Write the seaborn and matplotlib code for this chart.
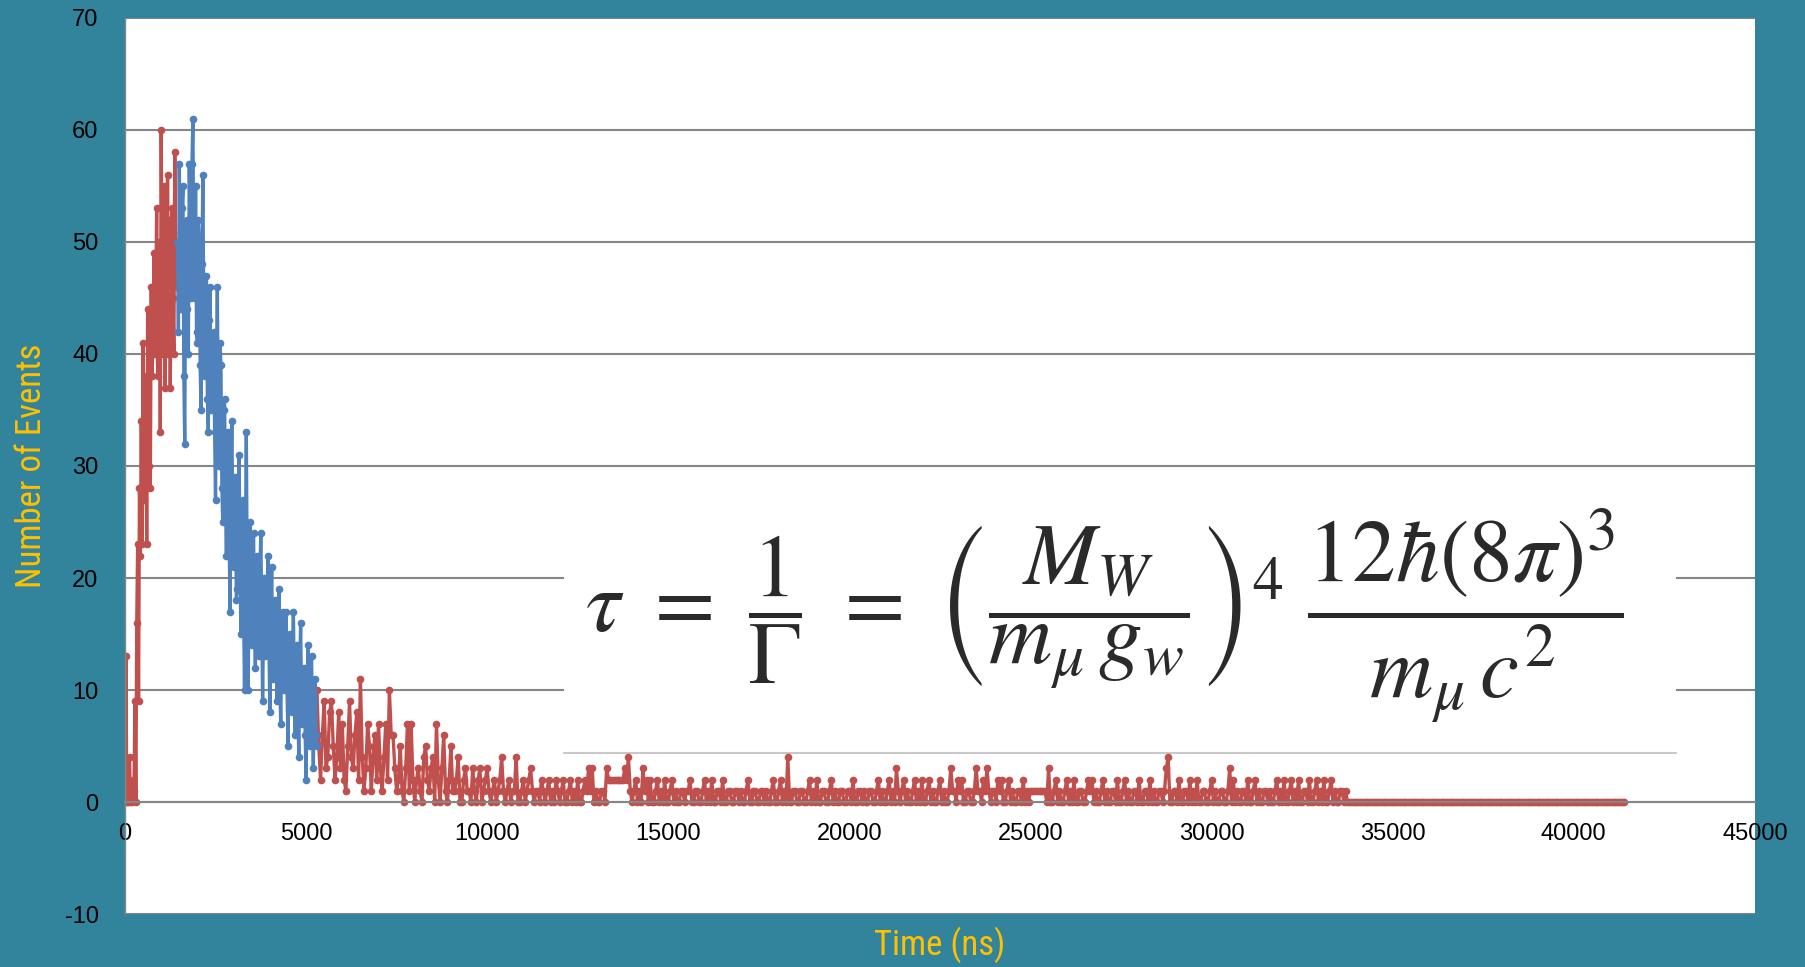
# Muon decay-time histogram with the lifetime formula pasted on top
# Output : out.png

import matplotlib.pyplot as plt
import numpy as np
import pandas as pd
import seaborn as sns
from matplotlib import font_manager
from matplotlib.lines import Line2D
from matplotlib.patches import Rectangle

# ── Data (counts per time bin) ────────────────────────────────────────────────
# red rise, 25 ns bins starting at 0 ns
red_rise = [0, 13, 0, 0, 1, 4, 0, 1, 0, 2,
            1, 9, 0, 16, 23, 9, 28, 22, 34, 23,
            41, 27, 34, 38, 23, 44, 30, 41, 28, 46,
            38, 42, 49, 40, 44, 53, 38, 41, 50, 33,
            60, 45, 40, 55, 37, 48, 40, 56, 44, 52,
            37, 47, 53, 45, 40, 58, 47, 50, 46]
RISE_START, RISE_STEP = 0, 25

# blue peak, 25 ns bins starting at 1450 ns
blue_peak = [50, 42, 57, 47, 44, 53, 55, 38, 32, 49,
             52, 44, 40, 57, 50, 45, 57, 61, 48, 45,
             55, 42, 41, 52, 50, 39, 35, 48, 56, 44,
             38, 45, 47, 36, 33, 43, 46, 35, 36, 41,
             42, 33, 27, 38, 46, 34, 30, 41, 39, 28,
             25, 35, 36, 27, 22, 30, 33, 24, 17, 29,
             34, 26, 21, 28, 29, 18, 19, 27, 31, 22,
             15, 24, 27, 17, 10, 22, 33, 20, 10, 18,
             25, 19, 14, 20, 24, 16, 12, 19, 22, 15,
             13, 20, 24, 17, 9, 16, 20, 13, 14, 19,
             22, 14, 8, 15, 21, 13, 11, 16, 18, 12,
             9, 14, 19, 11, 7, 13, 17, 12, 10, 15,
             17, 10, 5, 12, 15, 9, 8, 13, 17, 10,
             6, 11, 14, 8, 4, 12, 16, 9, 7, 11,
             12, 6, 2, 9, 14, 7, 5, 10, 13, 8,
             3, 9, 11, 6, 5]
BLUE_START, BLUE_STEP = 1450, 25

# red decay tail, 50 ns bins starting at 5300 ns
red_mid = [10, 5, 2, 6, 9, 3, 4, 8, 9, 5, 2, 4, 8, 3,
           7, 2, 1, 5, 9, 4, 3, 6, 8, 2, 11, 4, 1, 3, 7, 5, 1, 4, 6, 2,
           7, 3, 1, 4, 7, 2, 10, 6, 6, 3, 1, 2, 5, 1, 0, 3, 7, 1, 7, 2,
           0, 2, 3, 1, 0, 4, 5, 2, 1, 3, 4, 0, 7, 2, 0, 3, 6, 1, 0, 2,
           5, 1, 1, 2, 4, 0, 0, 2, 3, 1, 1, 0, 3, 1, 0, 2, 3, 0, 1, 2,
           3, 1, 0, 1, 2, 0, 1, 2, 4, 1, 0, 1, 2, 0, 1, 1, 4, 0, 0, 1,
           2, 0, 1, 2, 3, 1, 0, 1, 1, 0, 2, 1, 0, 1, 2, 0, 1, 0, 2, 1]
red_low = [0, 1, 2, 0, 0, 1, 2, 0, 1, 0, 2, 0, 0, 1, 2, 1, 3, 1, 3, 0,   # 12000
           1, 0, 0, 1, 1, 0, 3, 2, 2, 2, 2, 2, 2, 2, 2, 2, 3, 2, 4, 1,
           0, 1, 2, 0, 1, 0, 3, 1, 2, 0, 2, 0, 0, 1, 2, 0, 1, 0, 2, 0,
           0, 1, 2, 0, 1, 0, 0, 1, 1, 0, 1, 1, 2, 0, 0, 1, 1, 0, 0, 1,
           2, 0, 1, 0, 2, 0, 0, 1, 1, 0, 2, 0, 0, 1, 1, 0, 0, 1, 1, 0,
           1, 0, 0, 1, 2, 0, 0, 1, 1, 0, 0, 1, 1, 0, 1, 0, 0, 1, 2, 0,   # 17000
           0, 1, 2, 0, 1, 0, 4, 0, 0, 1, 1, 0, 0, 1, 1, 0, 0, 1, 2, 0,
           1, 0, 2, 0, 0, 1, 1, 0, 0, 1, 2, 0, 1, 0, 0, 1, 1, 0, 0, 1,
           1, 0, 2, 0, 0, 1, 1, 0, 1, 0, 0, 1, 1, 0, 0, 1, 2, 0, 1, 0,
           0, 1, 2, 0, 1, 0, 3, 1, 0, 1, 2, 0, 1, 0, 0, 1, 2, 0, 1, 0,
           2, 0, 0, 1, 2, 0, 1, 0, 0, 1, 2, 0, 1, 0, 0, 1, 3, 1, 1, 0,   # 22000
           2, 1, 2, 0, 0, 1, 1, 0, 0, 1, 3, 1, 1, 0, 2, 1, 3, 1, 0, 1,
           1, 0, 2, 1, 2, 0, 0, 1, 2, 0, 1, 0, 0, 1, 1, 0, 2, 0, 1, 0,
           1, 1, 1, 1, 1, 1, 1, 1, 1, 0, 3, 0, 0, 1, 2, 0, 1, 0, 0, 1,
           2, 0, 1, 0, 2, 0, 0, 1, 1, 0, 0, 1, 2, 1, 2, 0, 1, 0, 0, 1,
           2, 0, 1, 0, 0, 1, 1, 0, 2, 0, 0, 1, 2, 0, 1, 0, 0, 1, 1, 0,   # 27000
           2, 0, 0, 1, 1, 0, 2, 0, 1, 0, 0, 1, 1, 0, 1, 3, 4, 0, 0, 1,
           1, 0, 2, 0, 0, 1, 1, 0, 2, 0, 1, 0, 2, 0, 0, 1, 1, 0, 0, 1,
           2, 0, 1, 0, 0, 1, 1, 0, 0, 1, 3, 0, 2, 0, 1, 0, 0, 1, 1, 0,
           2, 0, 0, 1, 2, 0, 1, 0, 0, 1, 1, 0, 1, 0, 0, 1, 2, 0, 1, 0,
           2, 0, 0, 1, 2, 0, 1, 0, 2, 0, 0, 1, 1, 0, 2, 0, 0, 1, 2, 0,   # 32000
           1, 0, 2, 0, 0, 1, 2, 0, 1, 0, 0, 1, 1, 0, 1, 0]
red_zero = [0] * 153         # empty bins out to 41400 ns
TAIL_START, TAIL_STEP = 5300, 50

X_TICKS = list(range(0, 45001, 5000))
Y_TICKS = list(range(-10, 71, 10))

RED = "#C0504D"
BLUE = "#4F81BD"
TEAL = "#31849B"
GOLD = "#FFC000"
GRID = "#868686"

# ── Frames ────────────────────────────────────────────────────────────────────
def series(values, start, step):
    return pd.DataFrame({"time": start + np.arange(len(values)) * step,
                         "events": values})

rise_df = series(red_rise, RISE_START, RISE_STEP)
blue_df = series(blue_peak, BLUE_START, BLUE_STEP)
tail_df = series(red_mid + red_low + red_zero, TAIL_START, TAIL_STEP)

# ── Fonts ─────────────────────────────────────────────────────────────────────
sns.set_style("white")
installed = {f.name for f in font_manager.fontManager.ttflist}
label_font = next((n for n in ["Liberation Sans Narrow", "Roboto Condensed"]
                   if n in installed), "Liberation Sans")
plt.rcParams["font.family"] = ["Liberation Sans", "DejaVu Sans"]
plt.rcParams["mathtext.fontset"] = "stix"
plt.rcParams["axes.unicode_minus"] = False
plt.rcParams["path.simplify"] = False   # keep every zig-zag of the dense bins

# ── Plot ──────────────────────────────────────────────────────────────────────
fig = plt.figure(figsize=(18.06, 9.67), dpi=100)
fig.patch.set_facecolor(TEAL)
ax = fig.add_axes([0.0692, 0.0548, 0.9025, 0.9266])
ax.set_facecolor("white")

line_kw = dict(marker="o", estimator=None, sort=False, ax=ax, legend=False)
sns.lineplot(data=rise_df, x="time", y="events", color=RED, **line_kw)
sns.lineplot(data=tail_df, x="time", y="events", color=RED, **line_kw)
sns.lineplot(data=blue_df, x="time", y="events", color=BLUE, **line_kw)
# Excel-like line weight and round markers
for ln in ax.lines:
    ln.set_linewidth(2.4)
    ln.set_markersize(5.5)
    ln.set_markeredgewidth(0)
    ln.set_solid_joinstyle("round")

ax.set_xlim(X_TICKS[0], X_TICKS[-1])
ax.set_ylim(Y_TICKS[0], Y_TICKS[-1])
ax.set_xticks(X_TICKS)
ax.set_yticks(Y_TICKS)
ax.set_xlabel("")
ax.set_ylabel("")
ax.tick_params(axis="x", length=0, pad=15, labelsize=17, colors="black")
ax.tick_params(axis="y", length=0, pad=19, labelsize=17, colors="black")

ax.set_axisbelow(True)
ax.yaxis.grid(True, color=GRID, linewidth=1.5)
ax.xaxis.grid(False)
for side in ["top", "right"]:
    ax.spines[side].set_visible(False)
ax.spines["left"].set_color(GRID)
ax.spines["left"].set_linewidth(1)
ax.spines["bottom"].set_position(("data", 0))
ax.spines["bottom"].set_color(GRID)
ax.spines["bottom"].set_linewidth(1.5)

# ── Pasted formula panel ──────────────────────────────────────────────────────
ax.add_patch(Rectangle((0.2693, 0.1797), 0.6822, 0.3047, transform=ax.transAxes,
                       facecolor="white", edgecolor="none", zorder=1.5))
ax.add_line(Line2D([0.2693, 0.9515], [0.1797, 0.1797], transform=ax.transAxes,
                   color="#C8C8C8", linewidth=1.5, zorder=1.6))
ax.text(0.601, 0.333,
        r"$\tau\ =\ \dfrac{1}{\Gamma}\ =\ \left(\dfrac{M_W}{m_\mu\, g_w}\right)^4"
        r"\ \dfrac{12\hbar(8\pi)^3}{m_\mu\, c^2}$",
        transform=ax.transAxes, ha="center", va="center", fontsize=63,
        color="#2A2A2A", zorder=1.7)

# ── Axis titles ───────────────────────────────────────────────────────────────
fig.text(0.5205, 0.0227, "Time (ns)", ha="center", va="center", color=GOLD,
         fontsize=25, family=label_font)
fig.text(0.0172, 0.5181, "Number of Events", ha="center", va="center",
         rotation=90, color=GOLD, fontsize=25, family=label_font)

plt.savefig("out.png", dpi=100, facecolor=fig.get_facecolor())
plt.close()
